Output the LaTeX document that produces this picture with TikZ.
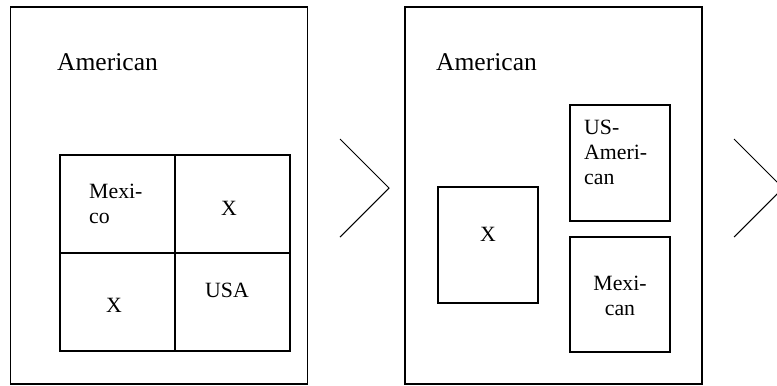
\documentclass[tikz,border=0pt]{standalone}
\usepackage{fontspec}
\setmainfont{Liberation Serif}
\begin{document}
\begin{tikzpicture}[x=0.03cm, y=-0.03cm,
        panel/.style={draw, line width=1.4pt, inner sep=0pt, minimum width=8.9cm, minimum height=11.31cm},
        cell/.style={draw, line width=1.3pt, inner sep=0pt, minimum width=3.45cm, minimum height=2.94cm},
        group/.style={draw, line width=1.3pt, inner sep=0pt, minimum width=3cm},
        big/.style={font=\fontsize{21.8}{26}\selectfont},
        small/.style={font=\fontsize{18.6}{21.3}\selectfont, inner sep=0pt}]
        \useasboundingbox (0, 0) rectangle (777, 385);

        % first panel
        \node[panel] (left) at (159, 195.5) {};
        \node[big] (amleft) at (107.5, 62) {American};
        \node[cell] (nw) at (117.5, 204) {};
        \node[cell] (ne) at (232.5, 204) {};
        \node[cell] (sw) at (117.5, 302) {};
        \node[cell] (se) at (232.5, 302) {};
        \node[small, anchor=west, align=left] (mexico) at (89, 204) {Mexi-\\co};
        \node[small] (xne) at (229, 208) {X};
        \node[small] (xsw) at (114, 305) {X};
        \node[small] (usa) at (227, 290) {USA};

        \draw[line width=0.9pt](340, 139)--(389, 188)--(340, 237);

        % second panel
        \node[panel] (right) at (553.5, 195.5) {};
        \node[big] (amright) at (486.5, 62) {American};
        \node[group, minimum height=3.48cm] (xbox) at (488, 245) {};
        \node[group, minimum height=3.48cm] (usbox) at (620, 163) {};
        \node[group, minimum height=3.45cm] (mexbox) at (620, 294.5) {};
        \node[small] (xright) at (488, 234) {X};
        \node[small, anchor=west, align=left] (usam) at (584, 152) {US-\\Ameri-\\can};
        \node[small, align=center] (mexican) at (620, 296) {Mexi-\\can};

        \draw[line width=0.9pt](734, 139)--(783, 188)--(734, 237);
    \end{tikzpicture}
\end{document}
